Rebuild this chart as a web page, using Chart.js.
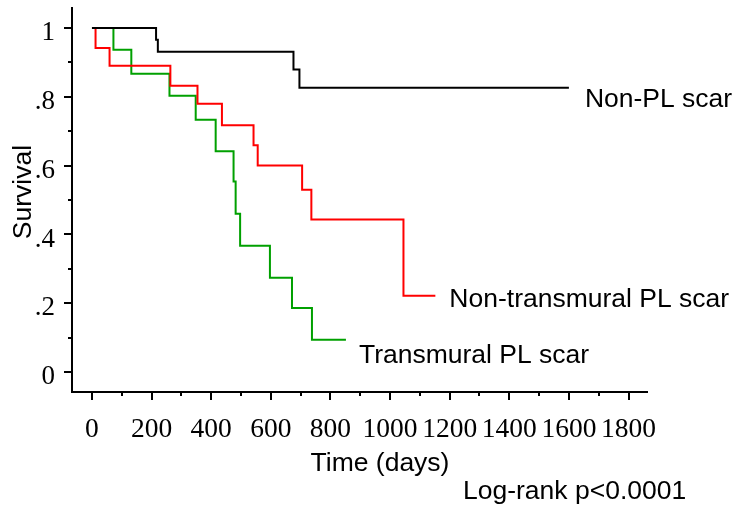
<!DOCTYPE html>
<html>
<head>
<meta charset="utf-8">
<script src="https://cdn.jsdelivr.net/npm/chart.js@4.4.1/dist/chart.umd.min.js"></script>
<style>
  html, body { margin: 0; padding: 0; background: #fff; }
  #wrap { width: 734px; height: 506px; position: relative; }
</style>
</head>
<body>
<div id="wrap"><canvas id="kmChart"></canvas></div>
<script>
// Kaplan-Meier survival by scar group, time in days
const nonPLTimes = [0, 215, 221, 676, 696, 1600];
const nonPLSurv = [1, 0.966, 0.931, 0.879, 0.826, 0.826];

const nonTransTimes = [0, 12, 59, 263, 354, 436, 542, 556, 705, 736, 1045, 1152];
const nonTransSurv = [1, 0.942, 0.890, 0.832, 0.780, 0.717, 0.659, 0.600, 0.530, 0.443, 0.222, 0.222];

const transTimes = [0, 72, 132, 260, 348, 415, 475, 482, 497, 597, 671, 738, 852];
const transSurv = [1, 0.937, 0.867, 0.803, 0.733, 0.642, 0.554, 0.460, 0.367, 0.274, 0.186, 0.094, 0.094];

const groupNames = ['Non-PL scar', 'Non-transmural PL scar', 'Transmural PL scar'];

// axis ticks
const xMajorTicks = [0, 200, 400, 600, 800, 1000, 1200, 1400, 1600, 1800];
const xMinorTicks = [100, 300, 500, 700, 900, 1100, 1300, 1500, 1700];
const yMajorTicks = [0, 0.2, 0.4, 0.6, 0.8, 1];
const yTickLabels = ['0', '.2', '.4', '.6', '.8', '1'];
const yMinorTicks = [0.1, 0.3, 0.5, 0.7, 0.9];

const toPoints = (times, surv) => times.map((t, i) => ({ x: t, y: surv[i] }));

// where each curve's name sits relative to the end of its line (px)
const nameShift = [[16, 19], [14, 11], [13, 23]];

const sansFont = '"Liberation Sans", Arial, sans-serif';
const serifFont = '"Liberation Serif", "Times New Roman", serif';

// short/long tick marks on both axes
const tickMarks = {
    id: 'tickMarks',
    afterDraw(chart) {
        const { ctx, scales: { x, y } } = chart;
        ctx.save();
        ctx.strokeStyle = '#000';
        ctx.lineWidth = 2;
        ctx.beginPath();
        xMajorTicks.forEach(v => {
            const px = Math.round(x.getPixelForValue(v));
            ctx.moveTo(px, x.top); ctx.lineTo(px, x.top + 8);
        });
        xMinorTicks.forEach(v => {
            const px = Math.round(x.getPixelForValue(v));
            ctx.moveTo(px, x.top); ctx.lineTo(px, x.top + 4);
        });
        yMajorTicks.forEach(v => {
            const py = Math.round(y.getPixelForValue(v));
            ctx.moveTo(y.right, py); ctx.lineTo(y.right - 8, py);
        });
        yMinorTicks.forEach(v => {
            const py = Math.round(y.getPixelForValue(v));
            ctx.moveTo(y.right, py); ctx.lineTo(y.right - 4, py);
        });
        ctx.stroke();
        ctx.restore();
    }
};

// curve names, axis titles and test result
const chartText = {
    id: 'chartText',
    afterDraw(chart) {
        const { ctx } = chart;
        ctx.save();
        ctx.fillStyle = '#000';
        ctx.font = '26.5px ' + sansFont;
        ctx.textBaseline = 'alphabetic';
        ctx.textAlign = 'left';
        chart.data.datasets.forEach((ds, i) => {
            const pts = chart.getDatasetMeta(i).data;
            const end = pts[pts.length - 1];
            ctx.fillText(ds.label, end.x + nameShift[i][0], end.y + nameShift[i][1]);
        });

        ctx.textAlign = 'center';
        ctx.fillText('Time (days)', 380, 471);

        ctx.textAlign = 'left';
        ctx.fillText('Log-rank p<0.0001', 463, 499);

        ctx.translate(31, 192);
        ctx.rotate(-Math.PI / 2);
        ctx.textAlign = 'center';
        ctx.fillText('Survival', 0, 0);
        ctx.restore();
    }
};

const kmCtx = document.getElementById('kmChart');
new Chart(kmCtx, {
    type: 'line',
    data: {
        datasets: [
            {
                label: groupNames[0],
                data: toPoints(nonPLTimes, nonPLSurv),
                borderColor: '#000000',
                borderWidth: 2,
                stepped: true,
                pointRadius: 0,
                fill: false
            },
            {
                label: groupNames[1],
                data: toPoints(nonTransTimes, nonTransSurv),
                borderColor: '#ff0000',
                borderWidth: 2,
                stepped: true,
                pointRadius: 0,
                fill: false
            },
            {
                label: groupNames[2],
                data: toPoints(transTimes, transSurv),
                borderColor: '#00a000',
                borderWidth: 2,
                stepped: true,
                pointRadius: 0,
                fill: false
            }
        ]
    },
    options: {
        responsive: true,
        maintainAspectRatio: false,
        animation: false,
        layout: {
            padding: { top: 8, right: 87, left: 0, bottom: 0 }
        },
        plugins: {
            legend: { display: false },
            tooltip: { enabled: false }
        },
        scales: {
            x: {
                type: 'linear',
                min: -67,
                max: 1862,
                afterBuildTicks: scale => {
                    scale.ticks = xMajorTicks.map(v => ({ value: v }));
                },
                afterFit: scale => {
                    scale.height = 114;
                    scale.paddingLeft = 0;
                    scale.paddingRight = 0;
                },
                grid: { display: false, drawTicks: false },
                border: { display: true, color: '#000', width: 2 },
                ticks: {
                    padding: 21,
                    maxRotation: 0,
                    autoSkip: false,
                    color: '#000',
                    font: { family: serifFont, size: 27.5 },
                    callback: value => String(value)
                }
            },
            y: {
                min: -0.058,
                max: 1.058,
                afterBuildTicks: scale => {
                    scale.ticks = yMajorTicks.map(v => ({ value: v }));
                },
                afterFit: scale => {
                    scale.width = 72;
                    scale.paddingTop = 0;
                    scale.paddingBottom = 0;
                },
                grid: { display: false, drawTicks: false },
                border: { display: true, color: '#000', width: 2 },
                ticks: {
                    padding: 17,
                    labelOffset: 5,
                    autoSkip: false,
                    color: '#000',
                    font: { family: serifFont, size: 27 },
                    callback: (value, index) => yTickLabels[index]
                }
            }
        }
    },
    plugins: [tickMarks, chartText]
});
</script>
</body>
</html>
